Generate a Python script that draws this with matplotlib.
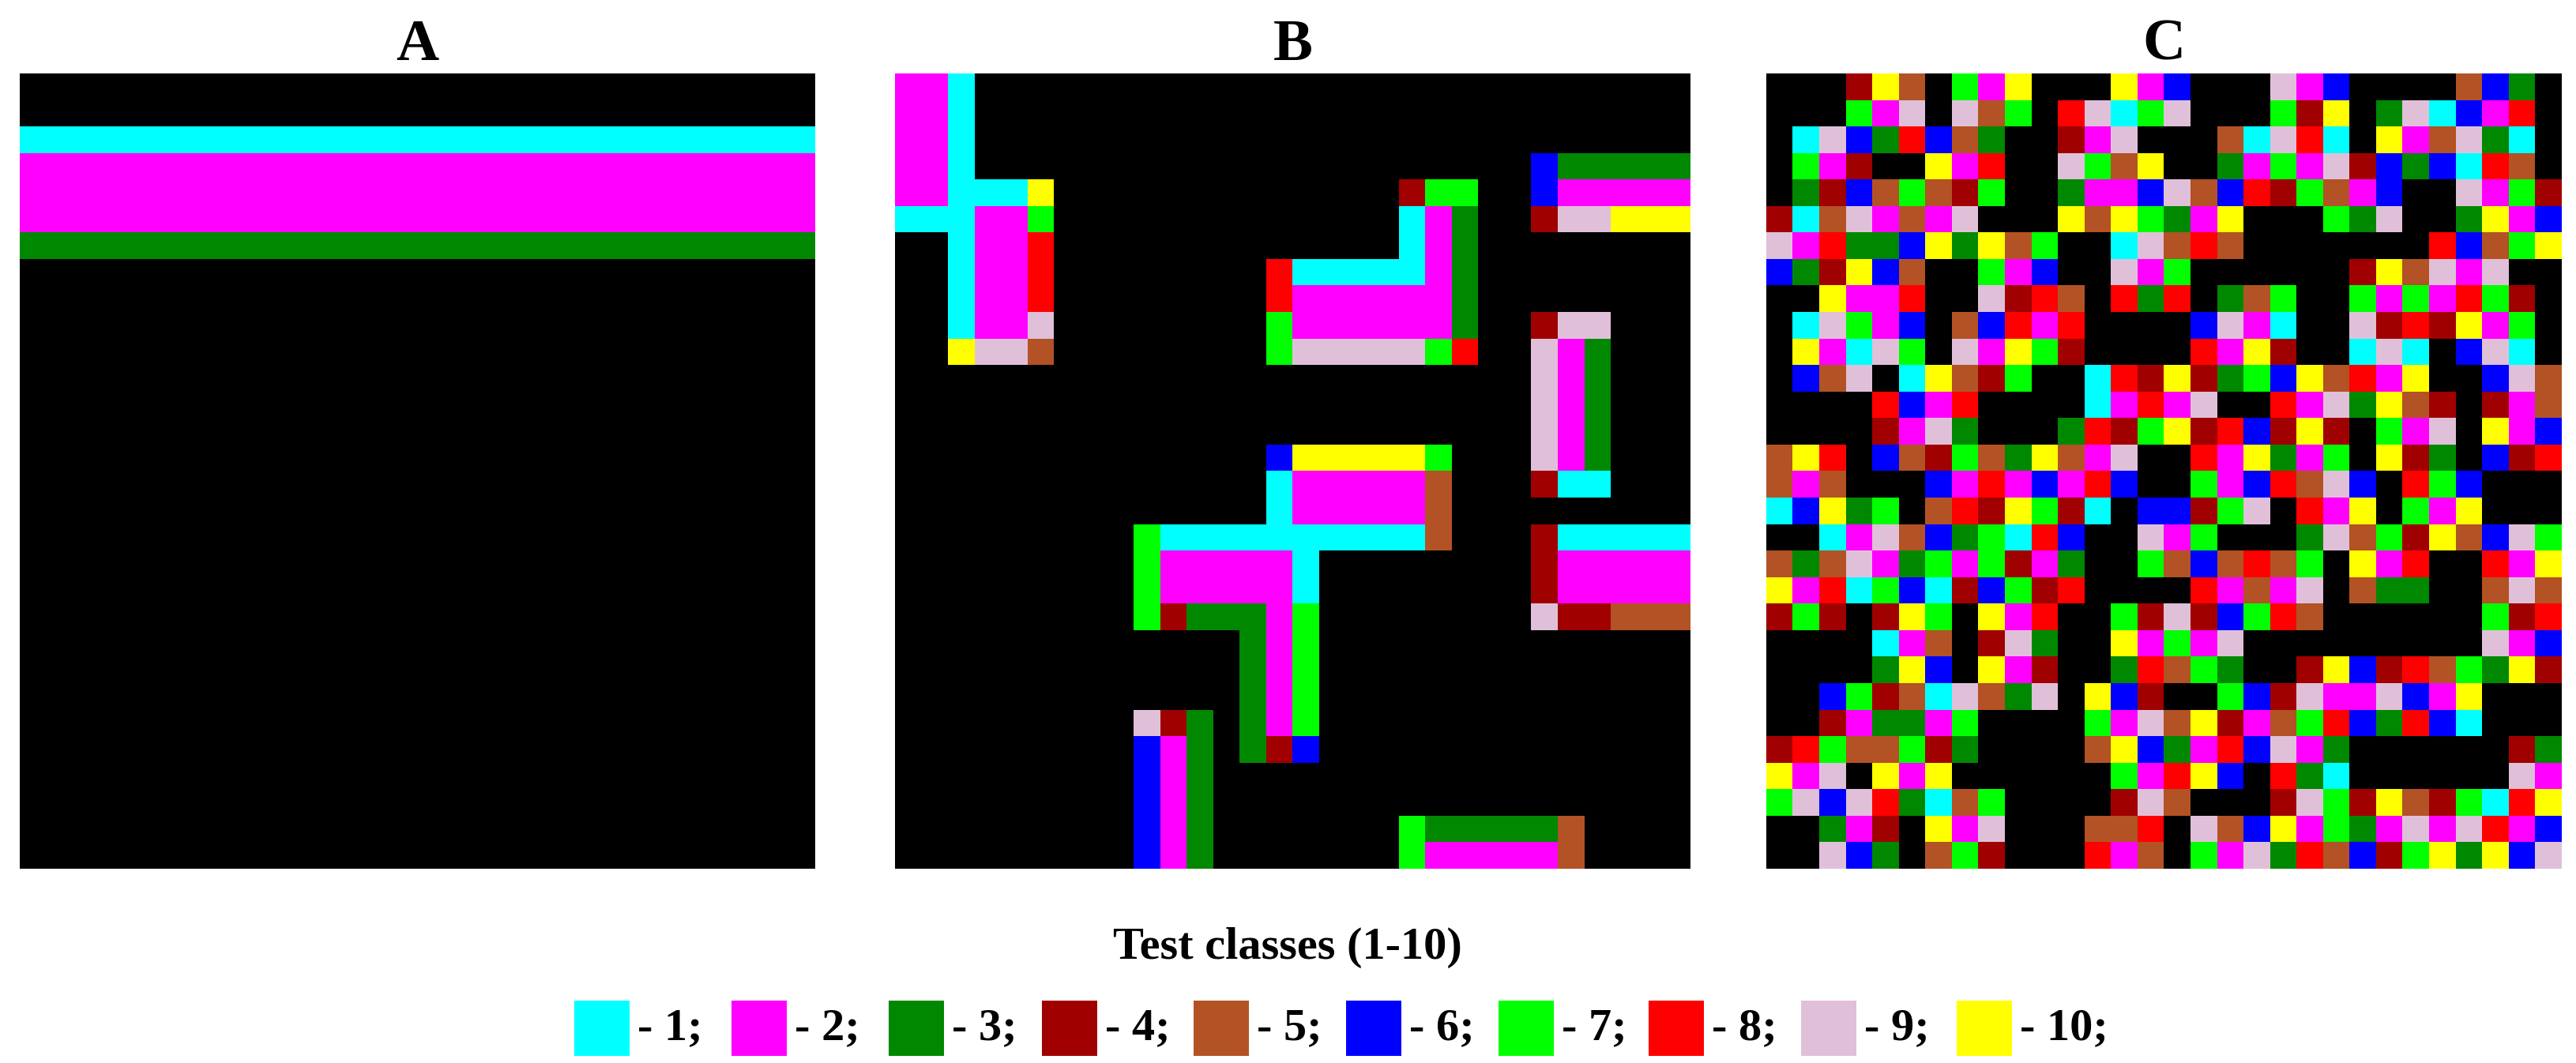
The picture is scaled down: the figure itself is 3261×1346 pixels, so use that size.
import numpy as np
import matplotlib
matplotlib.use("Agg")
import matplotlib.pyplot as plt
from matplotlib.colors import ListedColormap
from matplotlib.patches import Rectangle

plt.rcParams['font.family'] = ['Liberation Serif', 'DejaVu Serif']

panel_titles = ["A", "B", "C"]
class_labels = ["1", "2", "3", "4", "5", "6", "7", "8", "9", "10"]
class_colors = ["#00FFFF", "#FF00FF", "#008800", "#A00000", "#B35224",
                "#0000FF", "#00FF00", "#FF0000", "#E0C0D8", "#FFFF00"]

N = 30

# Panel A: full-width rows of a class
A_rows = {2: 1, 3: 2, 4: 2, 5: 2, 6: 3}

# Panel B: rectangular blocks (row0, row1, col0, col1, class) inclusive
B_blocks = [
    (0, 4, 0, 1, 2), (0, 9, 2, 2, 1), (4, 4, 3, 4, 1), (4, 4, 5, 5, 10),
    (5, 5, 0, 1, 1), (5, 9, 3, 4, 2), (5, 5, 5, 5, 7), (6, 8, 5, 5, 8),
    (9, 9, 5, 5, 9), (10, 10, 2, 2, 10), (10, 10, 3, 4, 9), (10, 10, 5, 5, 5),
    (4, 4, 19, 19, 4), (4, 4, 20, 21, 7), (5, 6, 19, 19, 1), (5, 9, 20, 20, 2),
    (5, 9, 21, 21, 3), (7, 8, 14, 14, 8), (7, 7, 15, 19, 1), (8, 9, 15, 19, 2),
    (9, 10, 14, 14, 7), (10, 10, 15, 19, 9), (10, 10, 20, 20, 7), (10, 10, 21, 21, 8),
    (3, 4, 24, 24, 6), (3, 3, 25, 29, 3), (4, 4, 25, 29, 2), (5, 5, 24, 24, 4),
    (5, 5, 25, 26, 9), (5, 5, 27, 29, 10),
    (9, 9, 24, 24, 4), (9, 9, 25, 26, 9), (10, 14, 24, 24, 9), (10, 14, 25, 25, 2),
    (10, 14, 26, 26, 3), (15, 15, 24, 24, 4), (15, 15, 25, 26, 1),
    (14, 14, 14, 14, 6), (14, 14, 15, 19, 10), (14, 14, 20, 20, 7),
    (15, 16, 14, 14, 1), (15, 16, 15, 19, 2), (15, 17, 20, 20, 5),
    (17, 20, 9, 9, 7), (17, 17, 10, 19, 1), (18, 19, 10, 14, 2), (18, 19, 15, 15, 1),
    (20, 20, 10, 10, 4), (20, 20, 11, 12, 3), (20, 25, 13, 13, 3),
    (20, 24, 14, 14, 2), (20, 24, 15, 15, 7), (25, 25, 14, 14, 4), (25, 25, 15, 15, 6),
    (17, 19, 24, 24, 4), (17, 17, 25, 29, 1), (18, 19, 25, 29, 2),
    (20, 20, 24, 24, 9), (20, 20, 25, 26, 4), (20, 20, 27, 29, 5),
    (24, 24, 9, 9, 9), (24, 24, 10, 10, 4), (24, 29, 11, 11, 3),
    (25, 29, 9, 9, 6), (25, 29, 10, 10, 2),
    (28, 29, 19, 19, 7), (28, 28, 20, 24, 3), (29, 29, 20, 24, 2), (28, 29, 25, 25, 5),
]

# Panel C: 30x30 class grid (0 = background)
C_rows = [
    [0,0,0,4,10,5,0,7,2,10,0,0,0,10,2, 6,0,0,0,9,2,6,0,0,0,0,5,6,3,0],
    [0,0,0,7,2,9,0,9,5,7,0,8,9,1,7, 9,0,0,0,7,4,10,0,3,9,1,6,2,8,0],
    [0,1,9,6,3,8,6,5,3,0,0,4,2,9,0, 0,0,5,1,9,8,1,0,10,2,5,9,3,1,0],
    [0,7,2,4,0,0,10,2,8,0,0,9,7,5,10, 0,0,3,2,7,2,9,4,6,3,6,1,8,5,0],
    [0,3,4,6,5,7,5,4,7,0,0,3,2,2,6, 9,5,6,8,4,7,5,2,6,0,0,9,2,7,4],
    [4,1,5,9,2,5,2,9,0,0,0,10,5,10,7, 3,2,10,0,0,0,7,3,9,0,0,3,10,2,6],
    [9,2,8,3,3,6,10,3,10,5,7,0,0,1,9, 5,8,5,0,0,0,0,0,0,0,8,6,5,7,10],
    [6,3,4,10,6,5,0,0,7,2,6,0,0,9,2, 7,0,0,0,0,0,0,4,10,5,9,2,9,0,0],
    [0,0,10,2,2,8,0,0,9,4,8,5,0,8,3, 8,0,3,5,7,0,0,7,2,7,2,8,7,4,0],
    [0,1,9,7,2,6,0,5,6,8,2,8,0,0,0, 0,6,9,2,1,0,0,9,4,8,4,10,2,7,0],
    [0,10,2,1,9,7,0,9,2,10,7,4,0,0,0, 0,8,2,10,4,0,0,1,9,1,0,6,9,1,0],
    [0,6,5,9,0,1,10,5,4,7,0,0,1,8,4, 10,4,3,7,6,10,5,8,2,10,0,0,6,9,5],
    [0,0,0,0,8,6,2,8,0,0,0,0,1,2,8, 2,9,0,0,8,2,9,3,10,5,4,0,4,2,5],
    [0,0,0,0,4,2,9,3,0,0,0,3,8,4,7, 10,4,8,6,4,10,4,0,7,2,9,0,10,2,6],
    [5,10,8,0,6,5,4,7,5,3,10,5,2,9,0, 0,8,2,10,3,2,7,0,10,4,3,0,6,4,8],
    [5,2,5,0,0,0,6,2,8,2,6,2,8,6,0, 0,7,2,6,8,5,9,6,0,8,7,6,0,0,0],
    [1,6,10,3,7,0,5,8,4,10,7,4,1,0,6, 6,4,7,9,0,8,2,10,0,7,2,10,0,0,0],
    [0,0,1,2,9,5,6,3,7,1,8,6,0,0,9, 2,7,0,0,0,3,9,5,7,4,10,5,6,9,7],
    [5,3,5,9,2,3,7,2,7,4,2,3,0,0,7, 5,6,5,8,5,7,0,10,2,8,0,0,8,2,10],
    [10,2,8,1,7,6,1,4,6,7,4,8,0,0,0, 0,8,2,5,2,9,0,5,3,3,0,0,5,9,5],
    [4,7,4,0,4,10,7,0,10,2,8,0,0,7,4, 9,4,6,7,8,5,0,0,0,0,0,0,7,4,8],
    [0,0,0,0,1,2,5,0,4,9,3,0,0,10,2, 7,2,9,0,0,0,0,0,0,0,0,0,9,2,6],
    [0,0,0,0,3,10,6,0,10,2,4,0,0,3,8, 5,7,3,0,0,4,10,6,4,8,5,7,3,10,4],
    [0,0,6,7,4,5,1,9,5,3,9,0,10,6,4, 0,0,7,6,4,9,2,2,9,6,2,10,0,0,0],
    [0,0,4,2,3,3,2,7,0,0,0,0,7,2,9, 5,10,4,2,5,7,8,6,3,8,6,1,0,0,0],
    [4,8,7,5,5,7,4,3,0,0,0,0,5,10,6, 3,2,8,6,9,2,3,0,0,0,0,0,0,4,3],
    [10,2,9,0,10,2,10,0,0,0,0,0,0,7,2, 8,10,6,0,8,3,1,0,0,0,0,0,0,9,2],
    [7,9,6,9,8,3,1,5,7,0,0,0,0,4,9, 5,0,0,0,4,9,7,4,10,5,4,7,1,8,10],
    [0,0,3,2,4,0,10,2,9,0,0,0,5,5,8, 0,9,5,6,10,2,7,3,2,9,2,9,8,2,6],
    [0,0,9,6,3,0,5,7,4,0,0,0,8,2,5, 0,7,2,9,3,8,5,6,4,7,10,3,10,6,9],
]

gridA = np.zeros((N, N), dtype=int)
for r, c in A_rows.items():
    gridA[r, :] = c
gridB = np.zeros((N, N), dtype=int)
for r0, r1, c0, c1, c in B_blocks:
    gridB[r0:r1 + 1, c0:c1 + 1] = c
gridC = np.array(C_rows, dtype=int)

cmap = ListedColormap(["#000000"] + class_colors)

W, H = 3261, 1346
fig = plt.figure(figsize=(W / 100, H / 100), dpi=100)
lefts = [25, 1133, 2236]
size = 1007
bottom = H - 1100
for left, grid, title in zip(lefts, [gridA, gridB, gridC], panel_titles):
    ax = fig.add_axes([left / W, bottom / H, size / W, size / H])
    ax.imshow(grid, cmap=cmap, vmin=-0.5, vmax=10.5, interpolation='nearest', aspect='auto')
    ax.set_axis_off()
    fig.text((left + size / 2) / W, 1 - 58 / H, title, ha='center', va='center',
             fontsize=54, fontweight='bold')

fig.text(1630 / W, 1 - 1200 / H, "Test classes (1-10)", ha='center', va='center',
         fontsize=42, fontweight='bold')

lax = fig.add_axes([0, 0, 1, 1])
lax.set_xlim(0, W)
lax.set_ylim(H, 0)
lax.set_axis_off()
sq_x = [727, 926, 1125, 1319, 1511, 1704, 1897, 2087, 2280, 2477]
for x, col, lab in zip(sq_x, class_colors, class_labels):
    lax.add_patch(Rectangle((x, 1267), 70, 70, facecolor=col, edgecolor='none'))
    lax.text(x + 80, 1302, "- " + lab + ";", ha='left', va='center',
             fontsize=42, fontweight='bold')

fig.savefig("out.png", dpi=100)
